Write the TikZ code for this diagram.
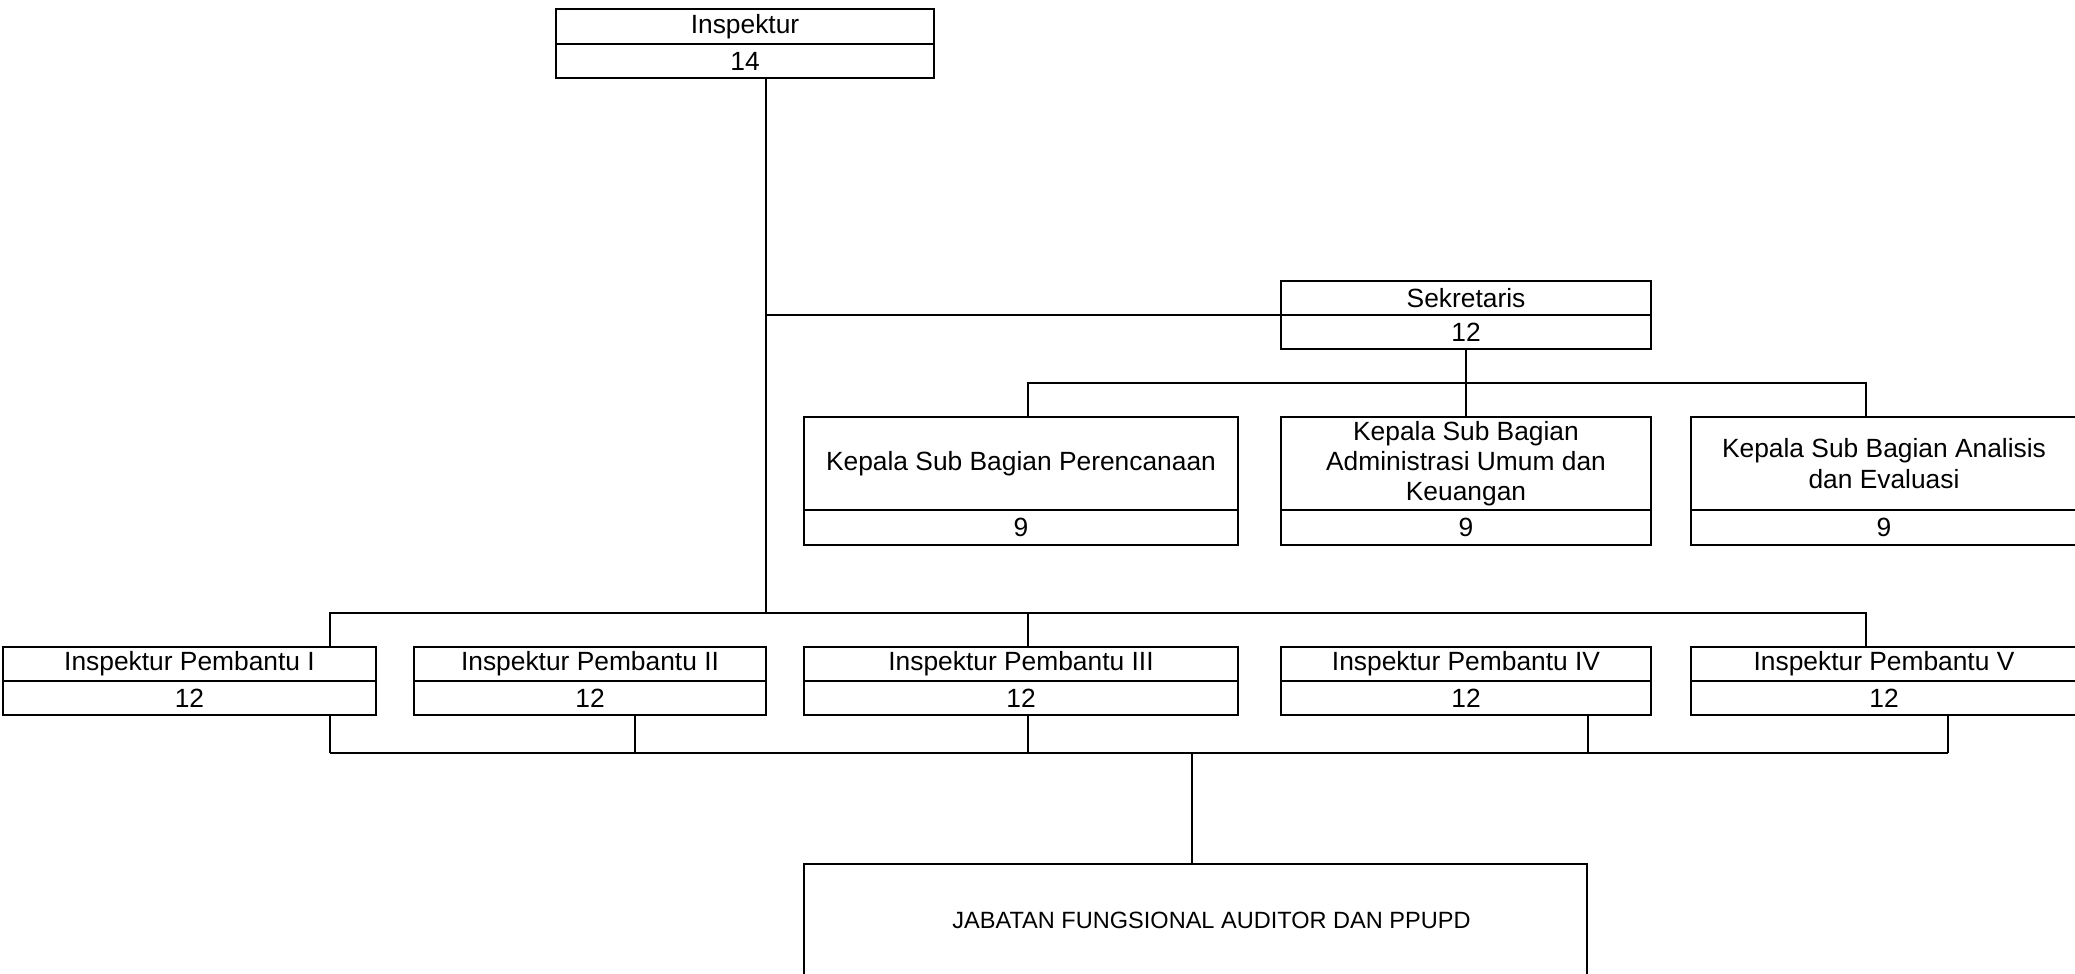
\documentclass[tikz,border=0pt]{standalone}
\usepackage{fontspec}
\setmainfont{Liberation Sans}
\usetikzlibrary{positioning}

\begin{document}
\begin{tikzpicture}[
  node distance=0pt,
  unitbox/.style={rectangle, draw, line width=0.5pt, inner sep=0pt, outer sep=0pt, anchor=north west, align=center, font=\fontsize{7.5}{8.6}\selectfont},
  numbox/.style={unitbox, anchor=north, minimum height=0.34cm},
  conn/.style={draw, line width=0.5pt}
]
\useasboundingbox (0,0) rectangle (20.75,-9.74);

\node[unitbox, minimum width=3.78cm, minimum height=0.35cm] (insp) at (5.56,-0.09) {Inspektur};
\node[numbox, minimum width=3.78cm, below=of insp] (inspn) {14};

\node[unitbox, minimum width=3.70cm, minimum height=0.34cm] (sek) at (12.81,-2.81) {Sekretaris};
\node[numbox, minimum width=3.70cm, below=of sek] (sekn) {12};

\node[unitbox, minimum width=4.34cm, minimum height=0.93cm] (subA) at (8.04,-4.17) {Kepala Sub Bagian Perencanaan};
\node[numbox, minimum width=4.34cm, minimum height=0.35cm, below=of subA] (subAn) {9};
\node[unitbox, minimum width=3.70cm, minimum height=0.93cm] (subB) at (12.81,-4.17) {Kepala Sub Bagian\\Administrasi Umum dan\\Keuangan};
\node[numbox, minimum width=3.70cm, minimum height=0.35cm, below=of subB] (subBn) {9};
\node[unitbox, minimum width=3.86cm, minimum height=0.93cm] (subC) at (16.91,-4.17) {Kepala Sub Bagian Analisis\\dan Evaluasi};
\node[numbox, minimum width=3.86cm, minimum height=0.35cm, below=of subC] (subCn) {9};

\node[unitbox, minimum width=3.73cm, minimum height=0.34cm] (ip1) at (0.03,-6.47) {Inspektur Pembantu I};
\node[numbox, minimum width=3.73cm, below=of ip1] (ipnum1) {12};
\node[unitbox, minimum width=3.52cm, minimum height=0.34cm] (ip2) at (4.14,-6.47) {Inspektur Pembantu II};
\node[numbox, minimum width=3.52cm, below=of ip2] (ipnum2) {12};
\node[unitbox, minimum width=4.34cm, minimum height=0.34cm] (ip3) at (8.04,-6.47) {Inspektur Pembantu III};
\node[numbox, minimum width=4.34cm, below=of ip3] (ipnum3) {12};
\node[unitbox, minimum width=3.70cm, minimum height=0.34cm] (ip4) at (12.81,-6.47) {Inspektur Pembantu IV};
\node[numbox, minimum width=3.70cm, below=of ip4] (ipnum4) {12};
\node[unitbox, minimum width=3.86cm, minimum height=0.34cm] (ip5) at (16.91,-6.47) {Inspektur Pembantu V};
\node[numbox, minimum width=3.86cm, below=of ip5] (ipnum5) {12};

\node[unitbox, minimum width=7.83cm, minimum height=1.12cm, font=\fontsize{6.7}{8}\selectfont] (jab) at (8.04,-8.64) {\hspace*{0.32cm}JABATAN FUNGSIONAL AUDITOR DAN PPUPD};

\coordinate (trunk) at (7.66,-6.13);
\coordinate (subL) at (10.28,-3.83);
\coordinate (subR) at (18.66,-3.83);
\coordinate (ipL) at (3.30,-6.13);
\coordinate (ipM) at (10.28,-6.13);
\coordinate (ipR) at (18.66,-6.13);
\coordinate (bus1) at (3.30,-7.53);
\coordinate (bus2) at (6.35,-7.53);
\coordinate (bus3) at (10.28,-7.53);
\coordinate (bus4) at (15.88,-7.53);
\coordinate (bus5) at (19.48,-7.53);
\coordinate (jabtop) at (11.92,-7.53);

\draw[conn] (inspn.south -| trunk) -- (trunk);
\draw[conn] (sek.south west) -- (sek.south west -| trunk);
\draw[conn] (sekn.south) -- (subB.north);
\draw[conn] (subA.north -| subL) -- (subL) -- (subR) -- (subC.north -| subR);
\draw[conn] (ip1.north -| ipL) -- (ipL) -- (ipR) -- (ip5.north -| ipR);
\draw[conn] (ipM) -- (ip3.north -| ipM);
\draw[conn] (bus1) -- (bus5);
\foreach \n in {1,...,5}
  \draw[conn] (ipnum\n.south -| bus\n) -- (bus\n);
\draw[conn] (jabtop) -- (jab.north -| jabtop);
\end{tikzpicture}
\end{document}
